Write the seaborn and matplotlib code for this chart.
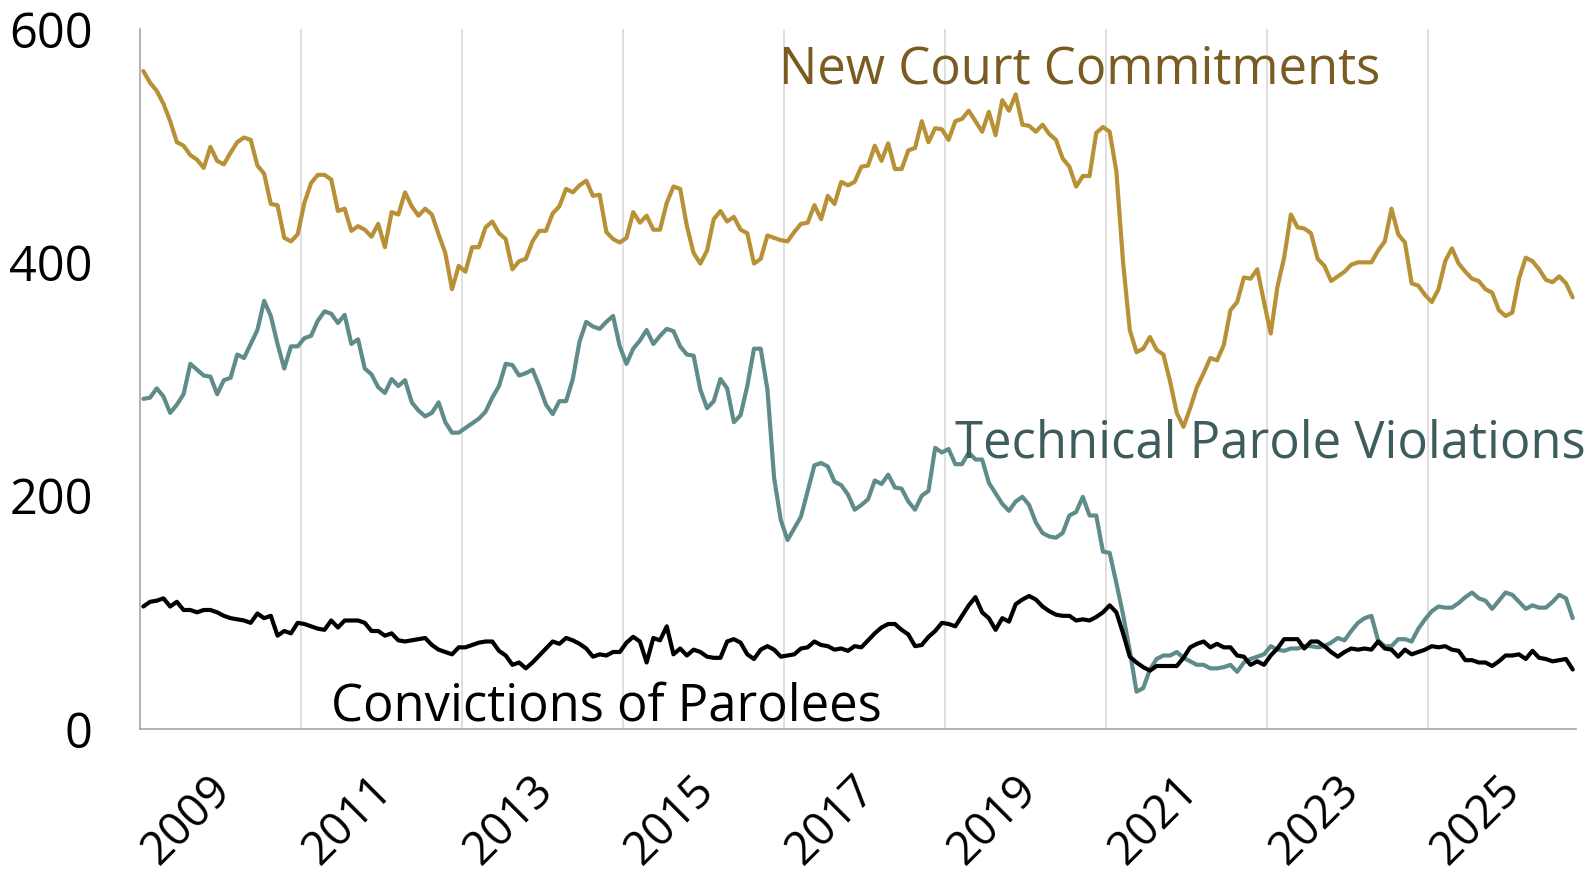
import seaborn as sns
import pandas as pd
import matplotlib.pyplot as plt
import matplotlib.transforms as mtransforms
import numpy as np

# -------------------------------
# DATA (monthly, starting Jan 2009)
# -------------------------------
new_court = [
    564, 554, 547, 536, 521, 503, 500, 492, 488, 481, 499, 487, 484, 494, 503, 507, 505, 483, 476, 450,
    449, 421, 418, 424, 451, 468, 475, 475, 471, 444, 446, 427, 431, 428, 422, 433, 413,
    443, 441, 460, 448, 440, 446, 441, 424, 408, 377, 397, 392, 413, 413, 430, 435, 425, 420, 394,
    401, 403, 418, 427, 427, 442, 448, 463, 460, 466, 470, 457, 458, 426, 420, 417, 421,
    443, 434, 440, 428, 428, 451, 465, 463, 431, 408, 399, 410, 437, 444, 435, 439, 428, 425, 399,
    403, 423, 421, 419, 418, 426, 433, 434, 449, 437, 457, 450, 469, 466, 469, 482, 483,
    500, 487, 502, 480, 480, 496, 498, 521, 503, 515, 514, 505, 521, 523, 530, 521, 512, 529, 509,
    539, 530, 544, 518, 517, 512, 518, 510, 505, 489, 482, 465, 474, 474, 511, 516, 512,
    478, 400, 342, 323, 326, 336, 325, 321, 298, 271, 259, 275, 293, 305, 318, 316, 329, 359, 366,
    387, 386, 394, 366, 339, 379, 404, 441, 430, 429, 425, 403, 397, 384, 388, 392,
    398, 400, 400, 400, 410, 418, 446, 424, 417, 382, 380, 372, 366, 377, 401, 412, 399, 392, 386,
    384, 377, 374, 359, 354, 357, 386, 404, 401, 394, 385, 383, 388, 382, 370,
]

technical = [
    283, 284, 292, 285, 271, 278, 287, 313, 308, 303, 302, 287, 299, 301, 321, 318, 330, 342, 367, 354,
    330, 309, 328, 328, 335, 337, 350, 358, 356, 348, 355, 330, 334, 309, 304, 293, 288,
    300, 294, 299, 280, 273, 268, 271, 280, 263, 254, 254, 258, 262, 266, 272, 284, 294, 313, 312,
    303, 305, 308, 294, 278, 270, 281, 281, 300, 332, 349, 345, 343, 349, 354, 328, 313,
    326, 333, 342, 330, 337, 343, 341, 328, 321, 320, 291, 275, 281, 300, 292, 263, 269, 294, 326,
    326, 291, 215, 179, 162, 172, 182, 204, 226, 228, 225, 212, 209, 201, 188, 192, 197,
    213, 210, 218, 207, 206, 195, 188, 200, 204, 241, 237, 240, 227, 227, 237, 231, 231, 211, 202,
    193, 187, 195, 199, 192, 177, 168, 165, 164, 168, 183, 186, 199, 183, 183, 152, 151,
    125, 98, 67, 32, 35, 51, 60, 63, 63, 66, 61, 58, 55, 55, 52, 52, 53, 55, 49,
    57, 60, 62, 64, 71, 68, 67, 69, 69, 71, 71, 70, 71, 74, 78, 76,
    84, 91, 95, 97, 76, 71, 71, 77, 77, 75, 86, 94, 101, 105, 104, 104, 108, 113, 117,
    112, 110, 103, 110, 117, 115, 109, 103, 106, 104, 104, 109, 115, 112, 95,
]

convictions = [
    105, 109, 110, 112, 105, 109, 102, 102, 100, 102, 102, 100, 97, 95, 94, 93, 91, 99, 95, 97,
    80, 84, 82, 91, 90, 88, 86, 85, 93, 87, 93, 93, 93, 91, 84, 84, 80,
    82, 76, 75, 76, 77, 78, 72, 68, 66, 64, 70, 70, 72, 74, 75, 75, 67, 63, 55,
    57, 52, 57, 63, 69, 75, 73, 78, 76, 73, 69, 62, 64, 63, 66, 66, 74,
    79, 75, 57, 78, 76, 88, 64, 69, 63, 68, 66, 62, 61, 61, 75, 77, 74, 64, 60,
    68, 71, 68, 62, 63, 64, 69, 70, 75, 72, 71, 68, 69, 67, 71, 70, 76,
    82, 87, 90, 90, 85, 81, 71, 72, 79, 84, 91, 90, 88, 97, 106, 113, 100, 95, 85,
    95, 92, 107, 111, 114, 111, 105, 101, 98, 97, 97, 93, 94, 93, 96, 100, 106,
    100, 82, 62, 57, 53, 50, 54, 54, 54, 54, 61, 70, 73, 75, 70, 73, 70, 70, 63,
    62, 55, 58, 55, 63, 69, 77, 77, 77, 69, 75, 75, 71, 66, 62, 66,
    69, 68, 69, 68, 75, 69, 68, 62, 68, 64, 66, 68, 71, 70, 71, 68, 67, 59, 59,
    57, 57, 54, 58, 63, 63, 64, 60, 67, 61, 60, 58, 59, 60, 51,
]

year_labels = ["2009", "2011", "2013", "2015", "2017", "2019", "2021", "2023", "2025"]

series_names = ["New Court Commitments", "Technical Parole Violations", "Convictions of Parolees"]
line_colors = ["#B89035", "#5F8C8A", "#000000"]
text_colors = ["#7A5C20", "#3E5C5C", "#000000"]

# -------------------------------
# LONG TABLE FOR SEABORN
# -------------------------------
n = len(new_court)
df = pd.DataFrame({
    "month": np.tile(np.arange(n), 3),
    "count": new_court + technical + convictions,
    "series": np.repeat(series_names, n),
})

# -------------------------------
# PLOT
# -------------------------------
sns.set_style("white")
plt.rcParams["font.family"] = ["Open Sans", "DejaVu Sans"]

fig = plt.figure(figsize=(15.96, 8.72), dpi=100)
ax = fig.add_axes([0.0877, 0.164, 0.8998, 0.8027])

sns.lineplot(
    data=df, x="month", y="count", hue="series",
    palette=dict(zip(series_names, line_colors)),
    linewidth=3.0, legend=False, ax=ax, zorder=3,
)

ax.set_xlim(-0.5, n - 0.5)
ax.set_ylim(0, 600)
ax.set_yticks([0, 200, 400, 600])
ax.tick_params(axis="y", labelsize=35, length=12, width=1, color="#A6A6A6",
               labelcolor="black", pad=22)

# gridlines between two-year blocks, labels centred in each block
ax.set_xticks(np.arange(23.5, n, 24), minor=True)
ax.set_xticks(np.arange(11.5, n, 24)[:len(year_labels)])
ax.set_xticklabels(year_labels, rotation=45, ha="right", rotation_mode="anchor",
                   fontsize=33, color="black")
ax.tick_params(axis="x", which="major", length=0, pad=18)
ax.tick_params(axis="x", which="minor", length=0)
ax.grid(axis="x", which="minor", color="#D9D9D9", linewidth=1.2)

# nudge the rotated year labels down and left
shift = mtransforms.ScaledTranslation(-0.12, -0.13, fig.dpi_scale_trans)
for lab in ax.get_xticklabels():
    lab.set_transform(lab.get_transform() + shift)

for side in ["top", "right"]:
    ax.spines[side].set_visible(False)
for side in ["left", "bottom"]:
    ax.spines[side].set_color("#A6A6A6")
    ax.spines[side].set_linewidth(1.2)

ax.set_xlabel("")
ax.set_ylabel("")

# series labels placed on the chart
ax.text(94.7, 565, series_names[0], color=text_colors[0], fontsize=36.5, va="center", ha="left")
ax.text(121.0, 244, series_names[1], color=text_colors[1], fontsize=36.5, va="center", ha="left")
ax.text(28.0, 19, series_names[2], color=text_colors[2], fontsize=36.5, va="center", ha="left")

plt.savefig("out.png", dpi=100)
